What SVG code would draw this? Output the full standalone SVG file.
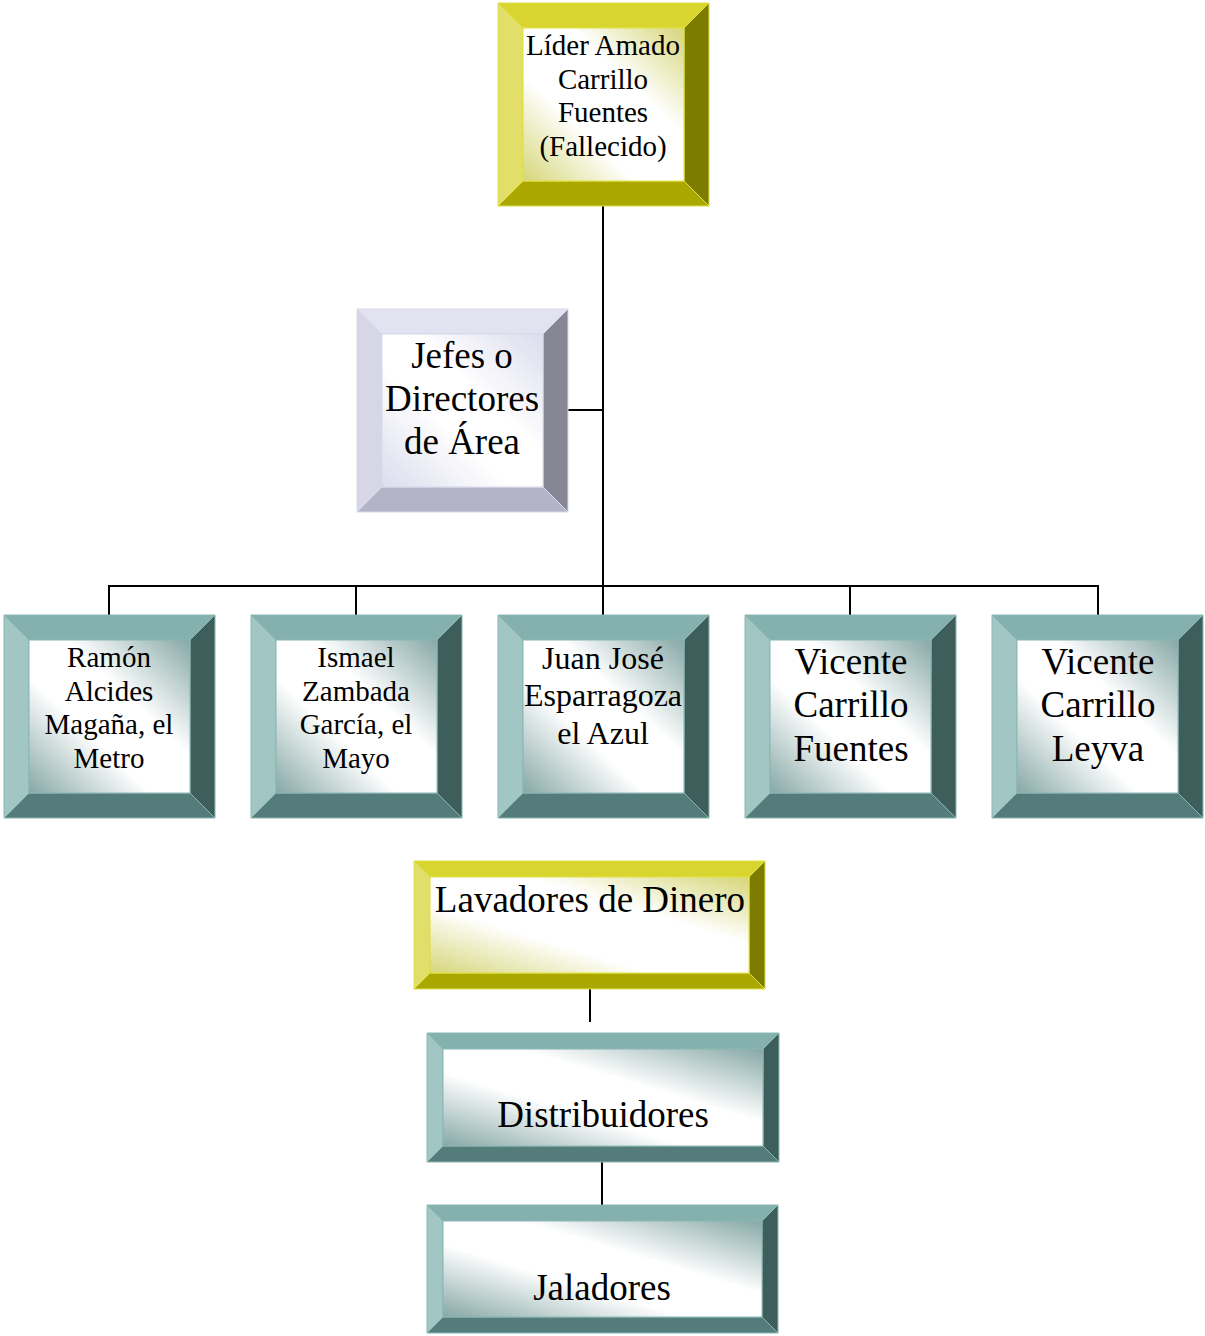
<svg xmlns="http://www.w3.org/2000/svg" width="1205" height="1336" viewBox="0 0 1205 1336">
<style>
text{font-family:"Liberation Serif","Times New Roman",serif;fill:#000;text-anchor:middle}
.y .t{fill:#d8d430}.y .l{fill:#e2de6a}.y .r{fill:#7c7c00}.y .b{fill:#aaa800}.y .i{fill:url(#gy)}
.y polygon,.y rect{stroke:#e0e040;stroke-width:1}
.v .t{fill:#e2e2f0}.v .l{fill:#d6d6e6}.v .r{fill:#868694}.v .b{fill:#b4b4c8}.v .i{fill:url(#gv)}
.v polygon,.v rect{stroke:#d8d8ea;stroke-width:1}
.g .t{fill:#84b0ae}.g .l{fill:#a2c6c4}.g .r{fill:#3e5e5c}.g .b{fill:#537c7a}.g .i{fill:url(#gg)}
.g polygon,.g rect{stroke:#8ab6b4;stroke-width:1}
.c{stroke:#000;stroke-width:2;fill:none}
.f29{font-size:29px}.f32{font-size:32px}.f37{font-size:37px}
</style>
<defs>
<linearGradient id="gy" x1="1" y1="0" x2="0" y2="1">
<stop offset="0" stop-color="#d6d67a"/><stop offset="0.35" stop-color="#ffffff"/><stop offset="0.65" stop-color="#ffffff"/><stop offset="1" stop-color="#d6d67a"/>
</linearGradient>
<linearGradient id="gv" x1="1" y1="0" x2="0" y2="1">
<stop offset="0" stop-color="#dcdcee"/><stop offset="0.4" stop-color="#ffffff"/><stop offset="0.6" stop-color="#ffffff"/><stop offset="1" stop-color="#dcdcee"/>
</linearGradient>
<linearGradient id="gg" x1="1" y1="0" x2="0" y2="1">
<stop offset="0" stop-color="#86a8a6"/><stop offset="0.38" stop-color="#ffffff"/><stop offset="0.62" stop-color="#ffffff"/><stop offset="1" stop-color="#86a8a6"/>
</linearGradient>
</defs>
<g id="connectors">
<line class="c" x1="603" y1="206" x2="603" y2="587"/>
<line class="c" x1="568" y1="410" x2="603" y2="410"/>
<line class="c" x1="109" y1="586" x2="1098" y2="586"/>
<line class="c" x1="109" y1="585" x2="109" y2="615"/>
<line class="c" x1="356" y1="585" x2="356" y2="615"/>
<line class="c" x1="603" y1="585" x2="603" y2="615"/>
<line class="c" x1="850" y1="585" x2="850" y2="615"/>
<line class="c" x1="1098" y1="585" x2="1098" y2="615"/>
<line class="c" x1="590" y1="989" x2="590" y2="1022"/>
<line class="c" x1="602" y1="1162" x2="602" y2="1205"/>
</g>
<g id="lider" class="y">
<polygon class="t" points="498,3 709,3 684,28 523,28"/>
<polygon class="l" points="498,3 523,28 523,181 498,206"/>
<polygon class="r" points="709,3 709,206 684,181 684,28"/>
<polygon class="b" points="498,206 709,206 684,181 523,181"/>
<rect class="i" x="523" y="28" width="161" height="153"/>
<text class="f29" x="603" y="55">Líder Amado</text>
<text class="f29" x="603" y="89">Carrillo</text>
<text class="f29" x="603" y="122">Fuentes</text>
<text class="f29" x="603" y="156">(Fallecido)</text>
</g>
<g id="jefes" class="v">
<polygon class="t" points="357,309 568,309 543,334 382,334"/>
<polygon class="l" points="357,309 382,334 382,487 357,512"/>
<polygon class="r" points="568,309 568,512 543,487 543,334"/>
<polygon class="b" points="357,512 568,512 543,487 382,487"/>
<rect class="i" x="382" y="334" width="161" height="153"/>
<text class="f37" x="462" y="368">Jefes o</text>
<text class="f37" x="462" y="411">Directores</text>
<text class="f37" x="462" y="454">de Área</text>
</g>
<g id="ramon" class="g">
<polygon class="t" points="4,615 215,615 190,640 29,640"/>
<polygon class="l" points="4,615 29,640 29,793 4,818"/>
<polygon class="r" points="215,615 215,818 190,793 190,640"/>
<polygon class="b" points="4,818 215,818 190,793 29,793"/>
<rect class="i" x="29" y="640" width="161" height="153"/>
<text class="f29" x="109" y="667">Ramón</text>
<text class="f29" x="109" y="701">Alcides</text>
<text class="f29" x="109" y="734">Magaña, el</text>
<text class="f29" x="109" y="768">Metro</text>
</g>
<g id="ismael" class="g">
<polygon class="t" points="251,615 462,615 437,640 276,640"/>
<polygon class="l" points="251,615 276,640 276,793 251,818"/>
<polygon class="r" points="462,615 462,818 437,793 437,640"/>
<polygon class="b" points="251,818 462,818 437,793 276,793"/>
<rect class="i" x="276" y="640" width="161" height="153"/>
<text class="f29" x="356" y="667">Ismael</text>
<text class="f29" x="356" y="701">Zambada</text>
<text class="f29" x="356" y="734">García, el</text>
<text class="f29" x="356" y="768">Mayo</text>
</g>
<g id="juan" class="g">
<polygon class="t" points="498,615 709,615 684,640 523,640"/>
<polygon class="l" points="498,615 523,640 523,793 498,818"/>
<polygon class="r" points="709,615 709,818 684,793 684,640"/>
<polygon class="b" points="498,818 709,818 684,793 523,793"/>
<rect class="i" x="523" y="640" width="161" height="153"/>
<text class="f32" x="603" y="669">Juan José</text>
<text class="f32" x="603" y="706">Esparragoza</text>
<text class="f32" x="603" y="744">el Azul</text>
</g>
<g id="vicente-fuentes" class="g">
<polygon class="t" points="745,615 956,615 931,640 770,640"/>
<polygon class="l" points="745,615 770,640 770,793 745,818"/>
<polygon class="r" points="956,615 956,818 931,793 931,640"/>
<polygon class="b" points="745,818 956,818 931,793 770,793"/>
<rect class="i" x="770" y="640" width="161" height="153"/>
<text class="f37" x="851" y="674">Vicente</text>
<text class="f37" x="851" y="717">Carrillo</text>
<text class="f37" x="851" y="761">Fuentes</text>
</g>
<g id="vicente-leyva" class="g">
<polygon class="t" points="992,615 1203,615 1178,640 1017,640"/>
<polygon class="l" points="992,615 1017,640 1017,793 992,818"/>
<polygon class="r" points="1203,615 1203,818 1178,793 1178,640"/>
<polygon class="b" points="992,818 1203,818 1178,793 1017,793"/>
<rect class="i" x="1017" y="640" width="161" height="153"/>
<text class="f37" x="1098" y="674">Vicente</text>
<text class="f37" x="1098" y="717">Carrillo</text>
<text class="f37" x="1098" y="761">Leyva</text>
</g>
<g id="lavadores" class="y">
<polygon class="t" points="414,861 765,861 749,877 430,877"/>
<polygon class="l" points="414,861 430,877 430,973 414,989"/>
<polygon class="r" points="765,861 765,989 749,973 749,877"/>
<polygon class="b" points="414,989 765,989 749,973 430,973"/>
<rect class="i" x="430" y="877" width="319" height="96"/>
<text class="f37" x="590" y="912">Lavadores de Dinero</text>
</g>
<g id="distribuidores" class="g">
<polygon class="t" points="427,1033 779,1033 763,1049 443,1049"/>
<polygon class="l" points="427,1033 443,1049 443,1146 427,1162"/>
<polygon class="r" points="779,1033 779,1162 763,1146 763,1049"/>
<polygon class="b" points="427,1162 779,1162 763,1146 443,1146"/>
<rect class="i" x="443" y="1049" width="320" height="97"/>
<text class="f37" x="603" y="1127">Distribuidores</text>
</g>
<g id="jaladores" class="g">
<polygon class="t" points="427,1205 778,1205 762,1221 443,1221"/>
<polygon class="l" points="427,1205 443,1221 443,1317 427,1333"/>
<polygon class="r" points="778,1205 778,1333 762,1317 762,1221"/>
<polygon class="b" points="427,1333 778,1333 762,1317 443,1317"/>
<rect class="i" x="443" y="1221" width="319" height="96"/>
<text class="f37" x="602" y="1300">Jaladores</text>
</g>
</svg>
